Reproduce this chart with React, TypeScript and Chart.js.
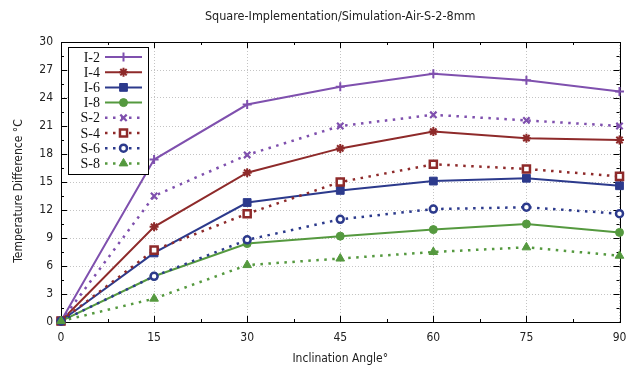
import React, { useEffect, useRef } from "react";
import { Chart, registerables } from "chart.js";
import { drawPoint } from "chart.js/helpers";

Chart.register(...registerables);

const angles = [0, 15, 30, 45, 60, 75, 90];
const I2 = [0.1, 17.4, 23.3, 25.2, 26.6, 25.9, 24.7];
const I4 = [0.1, 10.2, 16.0, 18.6, 20.4, 19.7, 19.5];
const I6 = [0.1, 7.4, 12.8, 14.1, 15.1, 15.4, 14.6];
const I8 = [0.1, 4.9, 8.4, 9.2, 9.9, 10.5, 9.6];
const S2 = [0.1, 13.5, 17.9, 21.0, 22.2, 21.6, 21.0];
const S4 = [0.1, 7.7, 11.6, 15.0, 16.9, 16.4, 15.6];
const S6 = [0.1, 4.9, 8.8, 11.0, 12.1, 12.3, 11.6];
const S8 = [0.1, 2.5, 6.1, 6.8, 7.5, 8.0, 7.1];
const seriesLabels = ["I-2", "I-4", "I-6", "I-8", "S-2", "S-4", "S-6", "S-8"];

const TITLE = "Square-Implementation/Simulation-Air-S-2-8mm";
const X_TITLE = "Inclination Angle°";
const Y_TITLE = "Temperature Difference °C";

const PURPLE = "#7f50ae";
const RED = "#8e2a2a";
const BLUE = "#2c3a8c";
const GREEN = "#55993f";

const SANS = "'DejaVu Sans Condensed', 'DejaVu Sans', sans-serif";

type Style = { color: string; dotted: boolean; pointStyle: string; radius: number; fill: string; bw: number };
const styles: Style[] = [
  { color: PURPLE, dotted: false, pointStyle: "cross", radius: 4.5, fill: PURPLE, bw: 2 },
  { color: RED, dotted: false, pointStyle: "star", radius: 4.5, fill: RED, bw: 2 },
  { color: BLUE, dotted: false, pointStyle: "rect", radius: 5.5, fill: BLUE, bw: 1 },
  { color: GREEN, dotted: false, pointStyle: "circle", radius: 4, fill: GREEN, bw: 1 },
  { color: PURPLE, dotted: true, pointStyle: "crossRot", radius: 4.5, fill: PURPLE, bw: 2.2 },
  { color: RED, dotted: true, pointStyle: "rect", radius: 5, fill: "#ffffff", bw: 2.5 },
  { color: BLUE, dotted: true, pointStyle: "circle", radius: 3.5, fill: "#ffffff", bw: 2.5 },
  { color: GREEN, dotted: true, pointStyle: "triangle", radius: 5, fill: GREEN, bw: 1 },
];
const DOT_DASH = [2.5, 5.5];

const framePlugin = {
  id: "gnuFrame",
  beforeDatasetsDraw(chart: any) {
    const { ctx, chartArea: a, scales } = chart;
    const xs = scales.x;
    const ys = scales.y;
    ctx.save();
    ctx.strokeStyle = "#000";
    ctx.lineWidth = 1;
    ctx.beginPath();
    const xTicks = xs.ticks.map((t: any) => t.value);
    for (let i = 0; i < xTicks.length; i++) {
      const px = Math.round(xs.getPixelForValue(xTicks[i])) + 0.5;
      ctx.moveTo(px, a.bottom); ctx.lineTo(px, a.bottom - 6);
      ctx.moveTo(px, a.top); ctx.lineTo(px, a.top + 6);
      if (i < xTicks.length - 1) {
        const mx = Math.round(xs.getPixelForValue((xTicks[i] + xTicks[i + 1]) / 2)) + 0.5;
        ctx.moveTo(mx, a.bottom); ctx.lineTo(mx, a.bottom - 3);
        ctx.moveTo(mx, a.top); ctx.lineTo(mx, a.top + 3);
      }
    }
    const yTicks = ys.ticks.map((t: any) => t.value);
    for (let i = 0; i < yTicks.length; i++) {
      const py = Math.round(ys.getPixelForValue(yTicks[i])) + 0.5;
      ctx.moveTo(a.left, py); ctx.lineTo(a.left + 6, py);
      ctx.moveTo(a.right, py); ctx.lineTo(a.right - 6, py);
      if (i < yTicks.length - 1) {
        const my = Math.round(ys.getPixelForValue((yTicks[i] + yTicks[i + 1]) / 2)) + 0.5;
        ctx.moveTo(a.left, my); ctx.lineTo(a.left + 3, my);
        ctx.moveTo(a.right, my); ctx.lineTo(a.right - 3, my);
      }
    }
    ctx.stroke();
    ctx.strokeRect(Math.round(a.left) + 0.5, Math.round(a.top) + 0.5, Math.round(a.right - a.left), Math.round(a.bottom - a.top));
    ctx.restore();
  },
  afterDraw(chart: any) {
    const { ctx, chartArea: a } = chart;
    ctx.save();
    ctx.fillStyle = "#222";
    ctx.font = `12.5px ${SANS}`;
    ctx.textAlign = "center";
    ctx.textBaseline = "middle";
    ctx.fillText(TITLE, (a.left + a.right) / 2, 17);
    ctx.font = `12px ${SANS}`;
    ctx.fillText(X_TITLE, (a.left + a.right) / 2, 359);
    ctx.save();
    ctx.translate(19, 191);
    ctx.rotate(-Math.PI / 2);
    ctx.fillText(Y_TITLE, 0, 0);
    ctx.restore();

    // gnuplot-style legend
    const bx = 68, by = 47, bw = 80, bh = 127;
    ctx.fillStyle = "#fff";
    ctx.fillRect(bx, by, bw, bh);
    ctx.strokeStyle = "#000";
    ctx.lineWidth = 1;
    ctx.strokeRect(bx + 0.5, by + 0.5, bw, bh);
    ctx.font = "14px 'Liberation Serif', 'DejaVu Serif', serif";
    ctx.textAlign = "right";
    for (let i = 0; i < seriesLabels.length; i++) {
      const st = styles[i];
      const y = 57 + i * 15.2;
      ctx.fillStyle = "#111";
      ctx.fillText(seriesLabels[i], 100, y + 1);
      ctx.save();
      ctx.strokeStyle = st.color;
      ctx.lineWidth = st.dotted ? 2.5 : 2;
      ctx.setLineDash(st.dotted ? DOT_DASH : []);
      ctx.beginPath();
      ctx.moveTo(105, y);
      ctx.lineTo(142, y);
      ctx.stroke();
      ctx.setLineDash([]);
      ctx.fillStyle = st.fill;
      ctx.strokeStyle = st.color;
      ctx.lineWidth = st.bw;
      drawPoint(ctx, { pointStyle: st.pointStyle as any, radius: st.radius, rotation: 0, borderWidth: st.bw }, 123.5, y);
      ctx.restore();
    }
    ctx.restore();
  },
};

const allSeries = [I2, I4, I6, I8, S2, S4, S6, S8];

export default function App() {
  const ref = useRef<HTMLCanvasElement>(null);
  useEffect(() => {
    if (!ref.current) return;
    const datasets = allSeries.map((vals, i) => {
      const st = styles[i];
      return {
        label: seriesLabels[i],
        data: angles.map((x, j) => ({ x, y: vals[j] })),
        borderColor: st.color,
        backgroundColor: st.fill,
        borderWidth: st.dotted ? 2.5 : 2,
        borderDash: st.dotted ? DOT_DASH : [],
        pointStyle: st.pointStyle,
        pointRadius: st.radius,
        pointBorderWidth: st.bw,
        pointBorderColor: st.color,
        pointBackgroundColor: st.fill,
        tension: 0,
        clip: false as any,
        order: 8 - i,
      };
    });
    const chart = new Chart(ref.current, {
      type: "line",
      data: { datasets } as any,
      options: {
        animation: false,
        responsive: true,
        maintainAspectRatio: false,
        layout: { padding: { top: 42, right: 6, bottom: 0, left: 0 } },
        plugins: { legend: { display: false }, tooltip: { enabled: false }, title: { display: false } },
        scales: {
          x: {
            type: "linear",
            min: 0,
            max: 90,
            ticks: { stepSize: 15, padding: 9, color: "#222", font: { family: SANS, size: 12 }, maxRotation: 0 },
            grid: { color: "#c4c4c4", drawTicks: false, lineWidth: 1 },
            border: { display: false, dash: [1, 2] },
            afterFit: (s: any) => { s.height = 50; s.paddingLeft = 0; s.paddingRight = 0; },
          },
          y: {
            min: 0,
            max: 30,
            ticks: { stepSize: 3, padding: 8, color: "#222", font: { family: SANS, size: 12 } },
            grid: { color: "#c4c4c4", drawTicks: false, lineWidth: 1 },
            border: { display: false, dash: [1, 2] },
            afterFit: (s: any) => { s.width = 61; s.paddingTop = 0; s.paddingBottom = 0; },
          },
        },
      },
      plugins: [framePlugin],
    });
    return () => chart.destroy();
  }, []);
  return (
    <div style={{ position: "fixed", left: 0, top: 0, width: 627, height: 372, background: "#fff" }}>
      <canvas ref={ref} />
    </div>
  );
}
